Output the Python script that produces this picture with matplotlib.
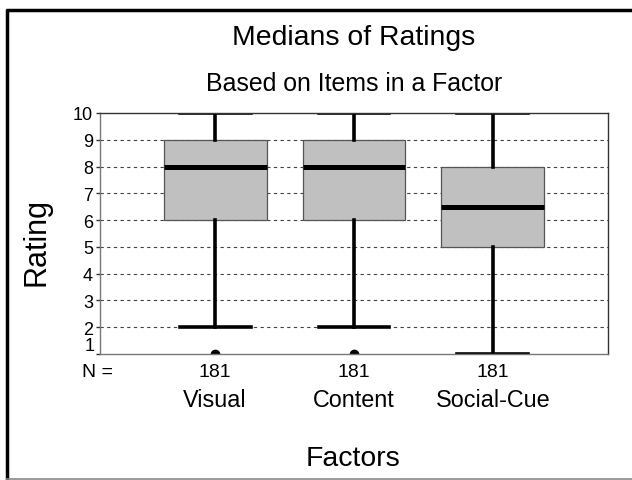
import matplotlib
matplotlib.use("Agg")
import matplotlib.pyplot as plt
import matplotlib.transforms as mtransforms
from matplotlib.lines import Line2D

plt.rcParams['font.family'] = ['Liberation Sans', 'DejaVu Sans']

categories = ["Visual", "Content", "Social-Cue"]
n_counts = [181, 181, 181]
whisker_low = [2, 2, 1]
q1 = [6, 6, 5]
medians = [8, 8, 6.5]
q3 = [9, 9, 8]
whisker_high = [10, 10, 10]
outliers = [[1], [1], []]
yticks = [1, 2, 3, 4, 5, 6, 7, 8, 9, 10]

W, H = 632, 481
fig = plt.figure(figsize=(W / 100, H / 100), dpi=100)

def fx(x):
    return x / W

def fy(y):
    return 1 - y / H

ax = fig.add_axes([fx(100), fy(355), (608 - 100) / W, (355 - 114) / H])

stats = []
for i, c in enumerate(categories):
    stats.append(dict(label=c, whislo=whisker_low[i], q1=q1[i], med=medians[i],
                      q3=q3[i], whishi=whisker_high[i], fliers=outliers[i]))

positions = [1, 2, 3]
ax.bxp(stats, positions=positions, widths=0.74, patch_artist=True,
       showfliers=True,
       boxprops=dict(facecolor='#c0c0c0', edgecolor='#555555', linewidth=0.9),
       medianprops=dict(color='black', linewidth=3.6, solid_capstyle='butt'),
       whiskerprops=dict(color='black', linewidth=2.6),
       capprops=dict(color='black', linewidth=2.6),
       capwidths=0.51,
       flierprops=dict(marker='o', markerfacecolor='black', markeredgecolor='black',
                       markersize=6))

ax.set_xlim(0.17, 3.83)
ax.set_ylim(1, 10)
ax.set_yticks(yticks)
# the lowest label sits slightly raised in the reference; drawn separately below
ax.set_yticklabels([''] + [str(t) for t in yticks[1:]], fontsize=13)
ax.set_xticks([])
ax.tick_params(axis='y', length=3, width=1, color='#333333', pad=2)
for y in yticks[1:-1]:
    ax.axhline(y, color='#444444', linewidth=0.8, linestyle=(0, (3, 3)), zorder=0)
ax.set_axisbelow(True)
for s in ['left', 'bottom']:
    ax.spines[s].set_color('#777777')
for s in ['top', 'right']:
    ax.spines[s].set_color('#333333')
for s in ax.spines.values():
    s.set_linewidth(1)

low_off = mtransforms.offset_copy(ax.get_yaxis_transform(), fig=fig, x=-5, y=8, units='dots')
ax.text(0, yticks[0], str(yticks[0]), transform=low_off, fontsize=13,
        ha='right', va='center')

fig.text(fx(37), fy(242), "Rating", fontsize=22, rotation=90, ha='center', va='center')

trans = mtransforms.blended_transform_factory(ax.transData, fig.transFigure)
fig.text(fx(82), fy(373), "N =", fontsize=14, ha='left', va='center')
for i, c in enumerate(categories):
    ax.text(positions[i], fy(373), str(n_counts[i]), transform=trans,
            fontsize=14, ha='center', va='center')
    ax.text(positions[i], fy(401), c, transform=trans,
            fontsize=16.8, ha='center', va='center')

fig.text(fx(353), fy(459), "Factors", fontsize=20.4, ha='center', va='center')
fig.text(fx(354), fy(38), "Medians of Ratings", fontsize=20.4, ha='center', va='center')
fig.text(fx(354), fy(84), "Based on Items in a Factor", fontsize=17.9, ha='center', va='center')

# outer frame
fig.add_artist(Line2D([fx(7), fx(7)], [fy(9.5), fy(481)], color='black', linewidth=2.5,
                      solid_capstyle='butt', transform=fig.transFigure))
fig.add_artist(Line2D([fx(6), fx(632)], [fy(10.5), fy(10.5)], color='black', linewidth=2.5,
                      solid_capstyle='butt', transform=fig.transFigure))
fig.add_artist(Line2D([fx(6), fx(632)], [fy(480), fy(480)], color='#888888', linewidth=1.2,
                      solid_capstyle='butt', transform=fig.transFigure))

fig.savefig("out.png", dpi=100)
